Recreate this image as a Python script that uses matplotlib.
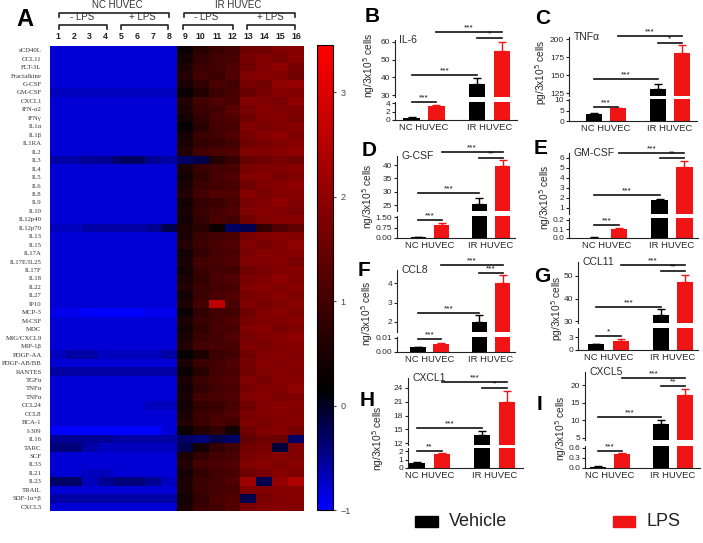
import matplotlib.pyplot as plt
import matplotlib.transforms as mtransforms
from matplotlib.colors import LinearSegmentedColormap
from matplotlib.patches import Rectangle
from matplotlib.lines import Line2D
import numpy as np

plt.rcParams['font.family'] = ['Liberation Sans', 'DejaVu Sans']

W, H = 703, 543

def box(x0, y0, x1, y1):
    # pixel box (top-left origin) -> figure fraction rect
    return [x0 / W, 1 - y1 / H, (x1 - x0) / W, (y1 - y0) / H]

def fy(p):
    return 1 - p / H

#---------------------------- heatmap data -----------------------------------
row_labels = ['sCD40L', 'CCL11', 'FLT-3L', 'Fractalkine', 'G-CSF', 'GM-CSF', 'CXCL1',
              'IFN-α2', 'IFNγ', 'IL1α', 'IL1β', 'IL1RA', 'IL2', 'IL3', 'IL4', 'IL5',
              'IL6', 'IL8', 'IL9', 'IL10', 'IL12p40', 'IL12p70', 'IL13', 'IL15', 'IL17A',
              'IL17E/IL25', 'IL17F', 'IL18', 'IL22', 'IL27', 'IP10', 'MCP-3', 'M-CSF',
              'MDC', 'MIG/CXCL9', 'MIP-1β', 'PDGF-AA', 'PDGF-AB/BB', 'RANTES', 'TGFα',
              'TNFα', 'TNFα', 'CCL24', 'CCL8', 'BCA-1', 'I-309', 'IL16', 'TARC', 'SCF',
              'IL33', 'IL21', 'IL23', 'TRAIL', 'SDF-1α+β', 'CXCL5']

heat = [
    [-.8, -.8, -.8, -.8, -.8, -.8, -.8, -.8, 0.3, 0.7, 0.9, 1.0, 1.6, 1.6, 1.8, 1.9],
    [-.8, -.8, -.8, -.8, -.8, -.8, -.8, -.8, 0.4, 0.8, 1.0, 1.1, 1.7, 1.8, 1.7, 1.9],
    [-.8, -.8, -.8, -.8, -.8, -.8, -.8, -.8, 0.5, 0.9, 1.0, 1.2, 1.6, 1.8, 2.0, 1.7],
    [-.8, -.8, -.8, -.8, -.8, -.8, -.8, -.8, 0.6, 1.0, 0.9, 1.2, 1.8, 1.9, 1.8, 1.6],
    [-.8, -.8, -.8, -.8, -.8, -.8, -.8, -.8, 0.5, 0.8, 1.1, 1.0, 1.7, 1.6, 2.0, 2.1],
    [-.7, -.7, -.7, -.7, -.7, -.7, -.7, -.7, 0.3, 0.6, 0.9, 1.1, 1.5, 1.7, 1.9, 1.8],
    [-.8, -.8, -.8, -.8, -.8, -.8, -.8, -.8, 0.6, 1.0, 1.2, 1.1, 1.9, 1.8, 1.7, 2.0],
    [-.8, -.8, -.8, -.8, -.8, -.8, -.8, -.8, 0.5, 0.9, 1.0, 1.3, 1.7, 1.9, 1.8, 1.8],
    [-.8, -.8, -.8, -.8, -.8, -.8, -.8, -.8, 0.4, 0.8, 1.1, 1.2, 1.6, 1.8, 1.9, 1.7],
    [-.8, -.8, -.8, -.8, -.8, -.8, -.8, -.8, 0.2, 0.7, 1.0, 1.1, 1.8, 1.7, 1.8, 1.9],
    [-.8, -.8, -.8, -.8, -.8, -.8, -.8, -.8, 0.4, 0.9, 1.0, 1.2, 1.7, 1.9, 2.0, 1.8],
    [-.8, -.8, -.8, -.8, -.8, -.8, -.8, -.8, 0.5, 0.8, 0.9, 1.0, 1.6, 1.7, 1.8, 1.9],
    [-.8, -.8, -.8, -.8, -.8, -.8, -.8, -.8, 0.6, 1.0, 1.1, 1.2, 1.8, 1.8, 1.9, 2.0],
    [-.6, -.6, -.5, -.5, -.3, -.3, -.5, -.6, -.3, -.2, 0.6, 0.9, 1.5, 1.6, 1.7, 1.6],
    [-.8, -.8, -.8, -.8, -.8, -.8, -.8, -.8, 0.5, 0.9, 1.0, 1.1, 1.7, 1.8, 1.8, 1.9],
    [-.8, -.8, -.8, -.8, -.8, -.8, -.8, -.8, 0.4, 0.8, 1.1, 1.2, 1.8, 1.9, 1.7, 1.8],
    [-.8, -.8, -.8, -.8, -.8, -.8, -.8, -.8, 0.5, 0.9, 1.0, 1.1, 1.6, 1.8, 1.9, 2.0],
    [-.8, -.8, -.8, -.8, -.8, -.8, -.8, -.8, 0.6, 1.0, 1.2, 1.2, 1.9, 1.7, 1.8, 1.9],
    [-.8, -.8, -.8, -.8, -.8, -.8, -.8, -.8, 0.4, 0.8, 0.9, 1.1, 1.7, 1.8, 2.0, 1.8],
    [-.8, -.8, -.8, -.8, -.8, -.8, -.8, -.8, 0.5, 0.9, 1.0, 1.2, 1.8, 1.9, 1.8, 1.7],
    [-.8, -.8, -.8, -.8, -.8, -.8, -.8, -.8, 0.4, 0.8, 1.1, 1.0, 1.6, 1.8, 1.9, 1.9],
    [-.7, -.7, -.6, -.6, -.6, -.6, -.5, -.2, 0.5, 0.7, 0.3, -.3, -.2, 0.8, 1.2, 1.4],
    [-.8, -.8, -.8, -.8, -.8, -.8, -.8, -.8, 0.5, 0.9, 1.0, 1.1, 1.7, 1.8, 1.9, 1.8],
    [-.8, -.8, -.8, -.8, -.8, -.8, -.8, -.8, 0.6, 0.9, 1.1, 1.2, 1.8, 1.7, 1.8, 2.0],
    [-.8, -.8, -.8, -.8, -.8, -.8, -.8, -.8, 0.4, 0.8, 1.0, 1.1, 1.7, 1.9, 1.8, 1.9],
    [-.8, -.8, -.8, -.8, -.8, -.8, -.8, -.8, 0.5, 1.0, 1.1, 1.2, 1.8, 1.8, 1.9, 1.7],
    [-.8, -.8, -.8, -.8, -.8, -.8, -.8, -.8, 0.4, 0.9, 1.0, 1.0, 1.6, 1.7, 1.8, 1.9],
    [-.8, -.8, -.8, -.8, -.8, -.8, -.8, -.8, 0.5, 0.8, 1.1, 1.2, 1.7, 1.8, 2.0, 1.8],
    [-.8, -.8, -.8, -.8, -.8, -.8, -.8, -.8, 0.6, 0.9, 1.0, 1.1, 1.8, 1.9, 1.8, 1.9],
    [-.8, -.8, -.8, -.8, -.8, -.8, -.8, -.8, 0.4, 0.9, 1.1, 1.2, 1.7, 1.8, 1.9, 1.8],
    [-.8, -.8, -.8, -.8, -.8, -.8, -.8, -.8, 0.5, 1.0, 2.6, 1.1, 1.8, 1.7, 1.8, 1.9],
    [-.9, -.9, -1., -1., -1., -1., -.9, -.9, 0.3, 0.8, 1.0, 1.0, 1.6, 1.8, 1.9, 1.8],
    [-.8, -.8, -.8, -.8, -.8, -.8, -.8, -.8, 0.5, 0.9, 1.0, 1.2, 1.7, 1.8, 1.8, 1.9],
    [-.8, -.8, -.8, -.8, -.8, -.8, -.8, -.8, 0.4, 0.8, 1.1, 1.1, 1.8, 1.9, 1.7, 1.8],
    [-.8, -.8, -.8, -.8, -.8, -.8, -.8, -.8, 0.5, 0.9, 1.0, 1.2, 1.7, 1.8, 1.9, 2.0],
    [-.8, -.8, -.8, -.8, -.8, -.8, -.8, -.8, 0.6, 1.0, 1.1, 1.1, 1.8, 1.7, 1.8, 1.9],
    [-.7, -.6, -.6, -.7, -.7, -.7, -.7, -.6, 0.2, 0.5, 0.9, 1.0, 1.6, 1.8, 1.9, 1.8],
    [-.8, -.8, -.8, -.8, -.8, -.8, -.8, -.8, 0.5, 0.9, 1.0, 1.2, 1.7, 1.9, 1.8, 1.9],
    [-.6, -.6, -.6, -.6, -.6, -.6, -.6, -.6, 0.3, 0.7, 1.0, 1.1, 1.6, 1.8, 1.9, 1.8],
    [-.8, -.8, -.8, -.8, -.8, -.8, -.8, -.8, 0.5, 0.9, 1.1, 1.2, 1.8, 1.7, 1.9, 1.9],
    [-.8, -.8, -.8, -.8, -.8, -.8, -.8, -.8, 0.4, 0.8, 1.0, 1.1, 1.7, 1.8, 1.8, 2.0],
    [-.8, -.8, -.8, -.8, -.8, -.8, -.8, -.8, 0.5, 1.0, 1.1, 1.2, 1.8, 1.9, 1.7, 1.8],
    [-.8, -.8, -.8, -.8, -.8, -.8, -.7, -.7, 0.4, 0.8, 0.9, 1.1, 1.6, 1.8, 1.9, 1.9],
    [-.8, -.8, -.8, -.8, -.8, -.8, -.8, -.8, 0.5, 0.9, 1.0, 1.2, 1.7, 1.8, 1.9, 1.8],
    [-.8, -.8, -.8, -.8, -.8, -.8, -.8, -.8, 0.6, 0.9, 1.1, 1.0, 1.8, 1.7, 1.8, 1.9],
    [-1., -1., -1., -1., -1., -1., -1., -.8, 0.3, 0.6, 0.8, 0.4, 1.6, 1.8, 1.9, 1.7],
    [-.5, -.5, -.5, -.5, -.6, -.6, -.6, -.6, -.3, -.4, -.2, -.3, 1.4, 1.6, 1.5, -.3],
    [-.4, -.4, -.6, -.7, -.7, -.7, -.7, -.7, -.2, 0.4, 0.8, 1.0, 1.6, 1.7, -.1, 1.8],
    [-.8, -.8, -.8, -.8, -.8, -.8, -.8, -.8, 0.5, 0.8, 1.0, 1.1, 1.7, 1.8, 1.9, 1.8],
    [-.8, -.8, -.8, -.8, -.8, -.8, -.8, -.8, 0.6, 1.0, 1.1, 1.2, 1.8, 1.9, 1.8, 1.9],
    [-.8, -.8, -.7, -.7, -.8, -.8, -.8, -.8, 0.4, 0.8, 1.0, 1.1, 1.6, 1.7, 1.9, 1.8],
    [-.3, -.3, -.7, -.5, -.4, -.4, -.5, -.7, 0.5, 0.9, 1.0, 1.2, 2.2, -.2, 2.1, 2.4],
    [-.8, -.8, -.8, -.8, -.8, -.8, -.8, -.8, 0.5, 0.9, 1.0, 1.1, 1.8, 1.8, 1.9, 1.9],
    [-.6, -.6, -.6, -.6, -.6, -.6, -.6, -.6, 0.4, 0.8, 1.1, 1.2, -.2, 1.7, 1.8, 1.9],
    [-.8, -.8, -.8, -.8, -.8, -.8, -.8, -.8, 0.5, 0.9, 1.0, 1.2, 1.7, 1.8, 1.9, 1.8],
]

#---------------------------- bar data ---------------------------------------
cytokines = ['IL-6', 'TNFα', 'G-CSF', 'GM-CSF', 'CCL8', 'CCL11', 'CXCL1', 'CXCL5']
units = ['ng', 'pg', 'ng', 'ng', 'ng', 'pg', 'ng', 'ng']
groups = ['NC HUVEC', 'IR HUVEC']
vehicle = [[0.5, 36], [3.5, 130], [0.08, 25.5], [0.005, 1.8],
           [0.0035, 2.0], [1.4, 32.7], [0.6, 13.7], [0.04, 9.0]]
vehicle_err = [[0.1, 3.5], [0.3, 8], [0.02, 2.0], [0.002, 0.1],
               [0.0003, 0.35], [0.1, 2.5], [0.05, 1.0], [0.01, 1.0]]
lps = [[3.3, 55], [6.0, 180], [0.95, 39.5], [0.1, 5.1],
       [0.006, 4.0], [2.1, 47.5], [1.6, 21.0], [0.42, 17.3]]
lps_err = [[0.3, 5], [0.3, 11], [0.1, 2.5], [0.01, 0.6],
           [0.0003, 0.4], [0.35, 3.0], [0.2, 2.3], [0.02, 1.5]]
upper_ticks = [[30, 40, 50, 60], [125, 150, 175, 200], [25, 30, 35, 40], [1, 2, 3, 4, 5, 6],
               [2, 3, 4], [30, 40, 50], [12, 15, 18, 21, 24], [5, 10, 15, 20]]
lower_ticks = [[0, 2, 4], [0, 5, 10], [0.0, 0.75, 1.5], [0.0, 0.1, 0.2],
               [0.0, 0.01], [0, 3], [0, 1, 2], [0.0, 0.3, 0.6]]
lower_fmt = ['{:g}', '{:g}', '{:.2f}', '{:.1f}', '{:.2f}', '{:g}', '{:g}', '{:.1f}']
# NC veh vs NC LPS, NC veh vs IR veh, IR veh vs IR LPS, NC LPS vs IR LPS
stars = [['***', '***', '*', '***'], ['***', '***', '*', '***'],
         ['***', '***', '**', '***'], ['***', '***', '**', '***'],
         ['***', '***', '***', '***'], ['*', '***', '**', '***'],
         ['**', '***', '*', '***'], ['***', '***', '**', '***']]

# layout in pixels: axis left/right, group centres, upper/lower axis extents with tick calibration
letters = ['B', 'C', 'D', 'E', 'F', 'G', 'H', 'I']
letter_xy = [(372, 16), (543, 18), (369, 150), (541, 148), (364, 270), (542, 277), (367, 400), (539, 404)]
xpix = [(395, 517, 424, 489.5), (569, 697, 606, 670), (397, 515, 430, 491), (569, 698, 606.5, 672),
        (397, 515, 429.5, 491), (578, 698, 608.5, 673), (408, 523, 429.5, 494.5), (585, 700, 610, 673)]
upix = [(40, 97, (60, 42), (30, 95)), (37, 96, (200, 39), (125, 93)),
        (156, 211, (40, 165), (25, 205)), (153, 214, (6, 158), (1, 208)),
        (270, 332, (4, 283), (2, 322)), (262, 323, (50, 276), (30, 321)),
        (378, 445, (24, 388), (12, 443)), (372, 440, (20, 385), (5, 438))]
lpix = [(102, 120, (4, 103), (0, 120)), (99, 121, (10, 100), (0, 121)),
        (216, 238, (1.5, 217), (0, 238)), (218, 238, (0.2, 220), (0, 238)),
        (337, 352, (0.01, 338), (0, 352)), (328, 350, (3, 337), (0, 350)),
        (448, 468, (2, 451), (0, 468)), (446, 468, (0.6, 448), (0, 468))]
ylab_xy = [(369, 65), (541, 72), (368, 196), (545, 197), (367, 313), (557, 308), (378, 438), (561, 428)]
bracket_y = [(102, 75, 38, 32), (107, 79, 43, 36), (220, 193, 158, 152), (225, 195, 158, 153),
             (339, 313, 273, 265), (336, 307, 271, 265), (451, 428, 388, 382), (451, 417, 386, 378)]

BLACK = '#000000'
RED = '#f01414'
TXT = '#2a2a2a'

def ylim_from(top, bot, t1, t2):
    (v1, p1), (v2, p2) = t1, t2
    k = (v1 - v2) / (p2 - p1)
    return v2 - (bot - p2) * k, v1 + (p1 - top) * k

fig = plt.figure(figsize=(7.03, 5.43), dpi=100)

#---------------------------- panel A: heatmap --------------------------------
vmin, vmax = -1.0, 3.45
pos0 = (0.15 - vmin) / (vmax - vmin)
cmap = LinearSegmentedColormap.from_list('bkr', [(0, (0, 0, 1)), (pos0, (0, 0, 0)), (1, (1, 0, 0))])

axh = fig.add_axes(box(50, 46, 304, 511))
data = np.array(heat)
im = axh.imshow(data, cmap=cmap, vmin=vmin, vmax=vmax, aspect='auto', interpolation='nearest')
axh.set_yticks(range(len(row_labels)))
axh.set_yticklabels(row_labels, family=['Liberation Serif', 'DejaVu Serif'], fontsize=4.9, color='#333')
axh.tick_params(axis='y', length=0, pad=6)
axh.set_xticks([])
for s in axh.spines.values():
    s.set_visible(False)

# column numbers and group brackets
for j in range(16):
    axh.text(j, -1.6, str(j + 1), ha='center', va='center', fontsize=6.3, fontweight='bold', color='#222')

def hbracket(x0, x1, yp, depth=4):
    fig.add_artist(Line2D([x0 / W, x0 / W, x1 / W, x1 / W],
                          [fy(yp + depth), fy(yp), fy(yp), fy(yp + depth)], color='#222', lw=1.2))

hbracket(59, 169, 13)
hbracket(184, 295, 13)
hbracket(59, 107, 25)
hbracket(121, 168, 25)
hbracket(183, 233, 25)
hbracket(247, 295, 25)
fig.text(117 / W, fy(5), 'NC HUVEC', ha='center', va='center', fontsize=7, color='#333')
fig.text(238 / W, fy(5), 'IR HUVEC', ha='center', va='center', fontsize=7, color='#333')
for xc, t in [(82, '- LPS'), (142, '+ LPS'), (206, '- LPS'), (270, '+ LPS')]:
    fig.text(xc / W, fy(17), t, ha='center', va='center', fontsize=7, color='#333')
fig.text(25 / W, fy(20), 'A', ha='center', va='center', fontsize=17, fontweight='bold')

cax = fig.add_axes(box(317, 45, 333, 510))
cb = fig.colorbar(im, cax=cax, ticks=[-1, 0, 1, 2, 3])
cb.ax.tick_params(labelsize=6.5, length=2, color='#444', labelcolor='#444')
cb.outline.set_linewidth(0.8)

#---------------------------- bar panels --------------------------------------
w = 0.25
off = 0.19
for i in range(8):
    xl, xr, xnc, xir = xpix[i]
    sc = xir - xnc
    xlim = ((xl - xnc) / sc, (xr - xnc) / sc)
    ut, ub, u1, u2 = upix[i]
    lt, lb, l1, l2 = lpix[i]
    axu = fig.add_axes(box(xl, ut, xr, ub))
    axl = fig.add_axes(box(xl, lt, xr, lb))
    x = np.arange(2)
    for ax in (axu, axl):
        ax.bar(x - off, vehicle[i], w, color=BLACK)
        ax.bar(x + off, lps[i], w, color=RED)
        ax.errorbar(x - off, vehicle[i], yerr=[[0, 0], vehicle_err[i]], fmt='none',
                    ecolor=BLACK, elinewidth=1, capsize=3, capthick=1)
        ax.errorbar(x + off, lps[i], yerr=[[0, 0], lps_err[i]], fmt='none',
                    ecolor=RED, elinewidth=1, capsize=3, capthick=1)
        ax.set_xlim(*xlim)
        for s in ('top', 'right'):
            ax.spines[s].set_visible(False)
        ax.spines['left'].set_color('#222')
        ax.spines['bottom'].set_color('#222')
        ax.tick_params(axis='y', labelsize=6, length=2.5, width=0.8, pad=1, colors='#222', labelcolor=TXT)
    axu.set_ylim(*ylim_from(ut, ub, u1, u2))
    axl.set_ylim(*ylim_from(lt, lb, l1, l2))
    axu.spines['bottom'].set_visible(False)
    axu.set_xticks([])
    axu.set_yticks(upper_ticks[i])
    axl.set_yticks(lower_ticks[i])
    axl.set_yticklabels([lower_fmt[i].format(v) for v in lower_ticks[i]])
    axl.set_xticks(x)
    axl.set_xticklabels(groups, fontsize=6.8, color=TXT)
    axl.tick_params(axis='x', length=0, pad=2)

    # title and y label
    axu.text(0.035, 1.0, cytokines[i], transform=axu.transAxes, ha='left', va='center',
             fontsize=7.5, color=TXT)
    fig.text(ylab_xy[i][0] / W, fy(ylab_xy[i][1]), units[i] + '/3x10$^5$ cells', rotation=90,
             ha='center', va='center', fontsize=7.3, color=TXT)
    fig.text(letter_xy[i][0] / W, fy(letter_xy[i][1]), letters[i], ha='center', va='center',
             fontsize=15, fontweight='bold')

    # significance brackets
    tr = mtransforms.blended_transform_factory(axl.transData, fig.transFigure)
    pairs = [(-off, off), (-off, 1 - off), (1 - off, 1 + off), (off, 1 + off)]
    for (a, b), yp, st in zip(pairs, bracket_y[i], stars[i]):
        axl.add_line(Line2D([a, b], [fy(yp), fy(yp)], transform=tr, color='#111', lw=1.2, clip_on=False))
        axl.text((a + b) / 2, fy(yp - 0.5), st, transform=tr, ha='center', va='bottom',
                 fontsize=6, color='#111', clip_on=False)

#---------------------------- legend -----------------------------------------
fig.add_artist(Rectangle((415 / W, fy(527)), 23 / W, 11 / H, color=BLACK, transform=fig.transFigure))
fig.add_artist(Rectangle((613 / W, fy(527)), 22 / W, 11 / H, color=RED, transform=fig.transFigure))
fig.text(449 / W, fy(521), 'Vehicle', ha='left', va='center', fontsize=13, color='#222')
fig.text(647 / W, fy(521), 'LPS', ha='left', va='center', fontsize=13, color='#222')

fig.savefig('out.png', dpi=100)
